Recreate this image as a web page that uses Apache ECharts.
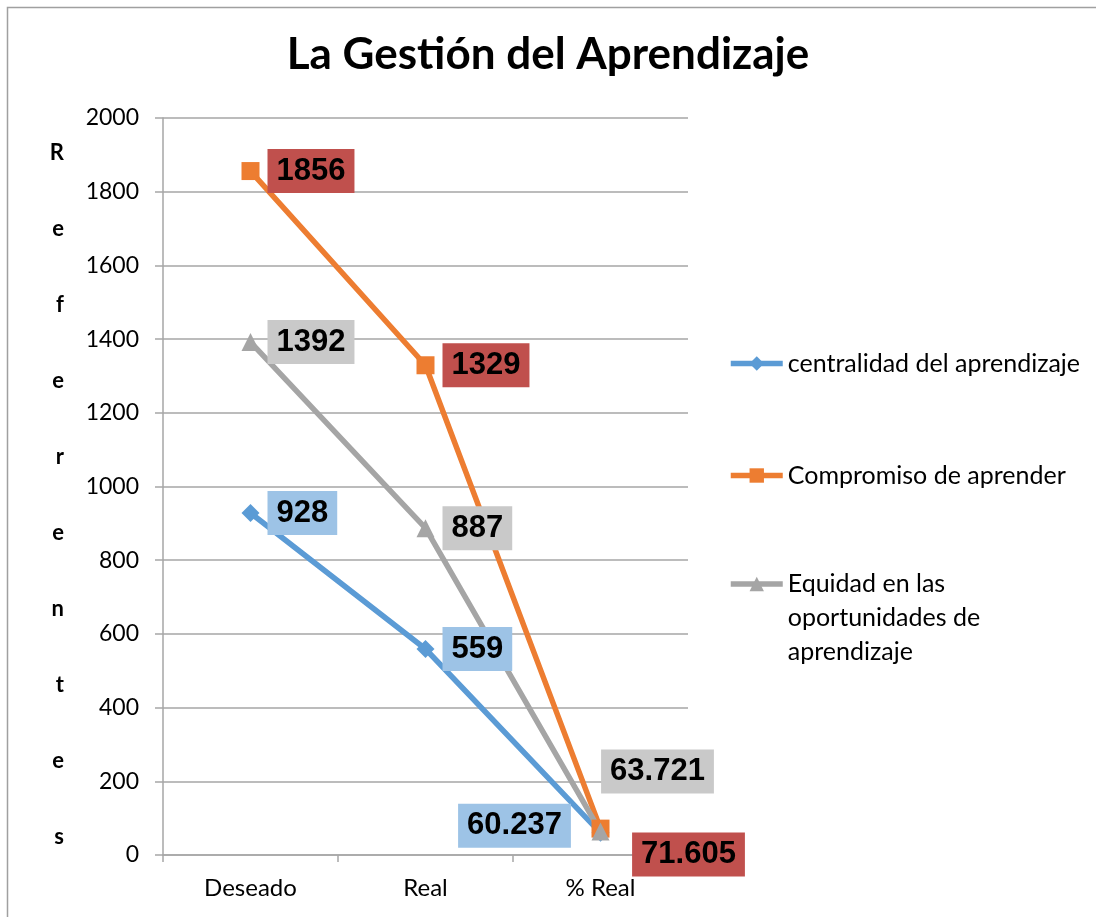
<!DOCTYPE html>
<html>
<head>
<meta charset="utf-8">
<script src="https://cdn.jsdelivr.net/npm/echarts@6/dist/echarts.min.js"></script>
<style>
html,body{margin:0;padding:0;background:#fff;}
#chart{width:1096px;height:917px;}
</style>
</head>
<body>
<div id="chart"></div>
<script>
const title = 'La Gestión del Aprendizaje';
const categories = ['Deseado', 'Real', '% Real'];
const seriesNames = ['centralidad del aprendizaje', 'Compromiso de aprender', 'Equidad en las oportunidades de aprendizaje'];
const centralidad = [928, 559, 60.237];
const compromiso = [1856, 1329, 71.605];
const equidad = [1392, 887, 63.721];
const yAxisName = 'Referentes';

const chart = echarts.init(document.getElementById('chart'));
const LBL = {
  show: true, color: '#000', fontFamily: 'Liberation Sans', fontWeight: 'bold',
  fontSize: 31, lineHeight: 32, padding: [6, 9, 6, 9]
};
function lab(bg, pos) {
  return Object.assign({}, LBL, {backgroundColor: bg}, pos);
}
const colors = ['#5B9BD5', '#ED7D31', '#A5A5A5'];
const labelBg = ['#9DC3E6', '#C0504D', '#C9C9C9'];
const symbols = ['diamond', 'rect', 'triangle'];
const symSizes = [18, 18, 18];
// offsets of label-box centre from the point (last category)
const lastOff = [[-86, -7], [88, 26], [57, -60]];

const series = [centralidad, compromiso, equidad].map((arr, s) => {
  const h = symSizes[s] / 2;
  return {
    name: seriesNames[s],
    type: 'line',
    data: arr.map((v, i) => ({
      value: v,
      label: lab(labelBg[s], i < 2
        ? {position: 'right', distance: 8}
        : {position: [h + lastOff[s][0], h + lastOff[s][1]], align: 'center', verticalAlign: 'middle'})
    })),
    symbol: symbols[s],
    symbolSize: symSizes[s],
    lineStyle: {color: colors[s], width: 5.5},
    itemStyle: {color: colors[s]},
    label: {show: true},
    labelLayout: {hideOverlap: false},
    emphasis: {disabled: true},
    animation: false
  };
});

const legendTops = [360, 472, 584];
const LEG_H = 18;
const legends = seriesNames.map((n, i) => ({
  data: [n],
  orient: 'vertical',
  left: 728,
  top: i === 2 ? legendTops[i] - 85 : legendTops[i] - LEG_H / 2,
  padding: 0,
  itemWidth: 52,
  itemHeight: LEG_H,
  itemGap: 5,
  selectedMode: false,
  lineStyle: {width: 5.5},
  // two leading blank lines keep the symbol level with the first text line
  formatter: i === 2 ? '\n\nEquidad en las\noportunidades de\naprendizaje' : '{name}',
  textStyle: i === 2
    ? {fontFamily: 'Lato', fontSize: 25, color: '#000', lineHeight: 34}
    : {fontFamily: 'Lato', fontSize: 25, color: '#000'}
}));

const nameText = '{gap| }\n' + yAxisName.split('').map(c => '{l|' + c + '}').join('\n');

chart.setOption({
  backgroundColor: '#fff',
  animation: false,
  title: {
    text: title, left: 'center', top: 28,
    textStyle: {fontFamily: 'Lato', fontWeight: 'bold', fontSize: 44, color: '#000'}
  },
  graphic: [{
    type: 'rect', left: 5, top: 5, silent: true,
    shape: {width: 1100, height: 920},
    style: {fill: 'none', stroke: '#A0A0A0', lineWidth: 1.5}
  }],
  legend: legends,
  grid: {left: 163, right: 408, top: 118, bottom: 62, containLabel: false},
  xAxis: {
    type: 'category', data: categories, boundaryGap: true,
    axisLine: {lineStyle: {color: '#A6A6A6', width: 1.5}},
    axisTick: {show: true, length: 7, lineStyle: {color: '#A6A6A6', width: 1.5}},
    axisLabel: {fontFamily: 'Lato', fontSize: 24, color: '#000', margin: 21}
  },
  yAxis: {
    type: 'value', min: 0, max: 2000, interval: 200,
    name: nameText,
    nameLocation: 'middle', nameRotate: 0, nameGap: 99,
    nameTextStyle: {
      fontFamily: 'Lato', fontWeight: 'bold', fontSize: 21, color: '#000',
      rich: {
        l: {fontFamily: 'Lato', fontWeight: 'bold', fontSize: 22, color: '#000', lineHeight: 76},
        gap: {fontSize: 10, lineHeight: 16}
      }
    },
    axisLine: {show: true, lineStyle: {color: '#A6A6A6', width: 1.5}},
    axisTick: {show: true, length: 8, lineStyle: {color: '#A6A6A6', width: 1.5}},
    axisLabel: {fontFamily: 'Lato', fontSize: 23, color: '#000', margin: 24, formatter: v => String(v)},
    splitLine: {lineStyle: {color: '#A6A6A6', width: 1.5}}
  },
  series: series
});
</script>
</body>
</html>
